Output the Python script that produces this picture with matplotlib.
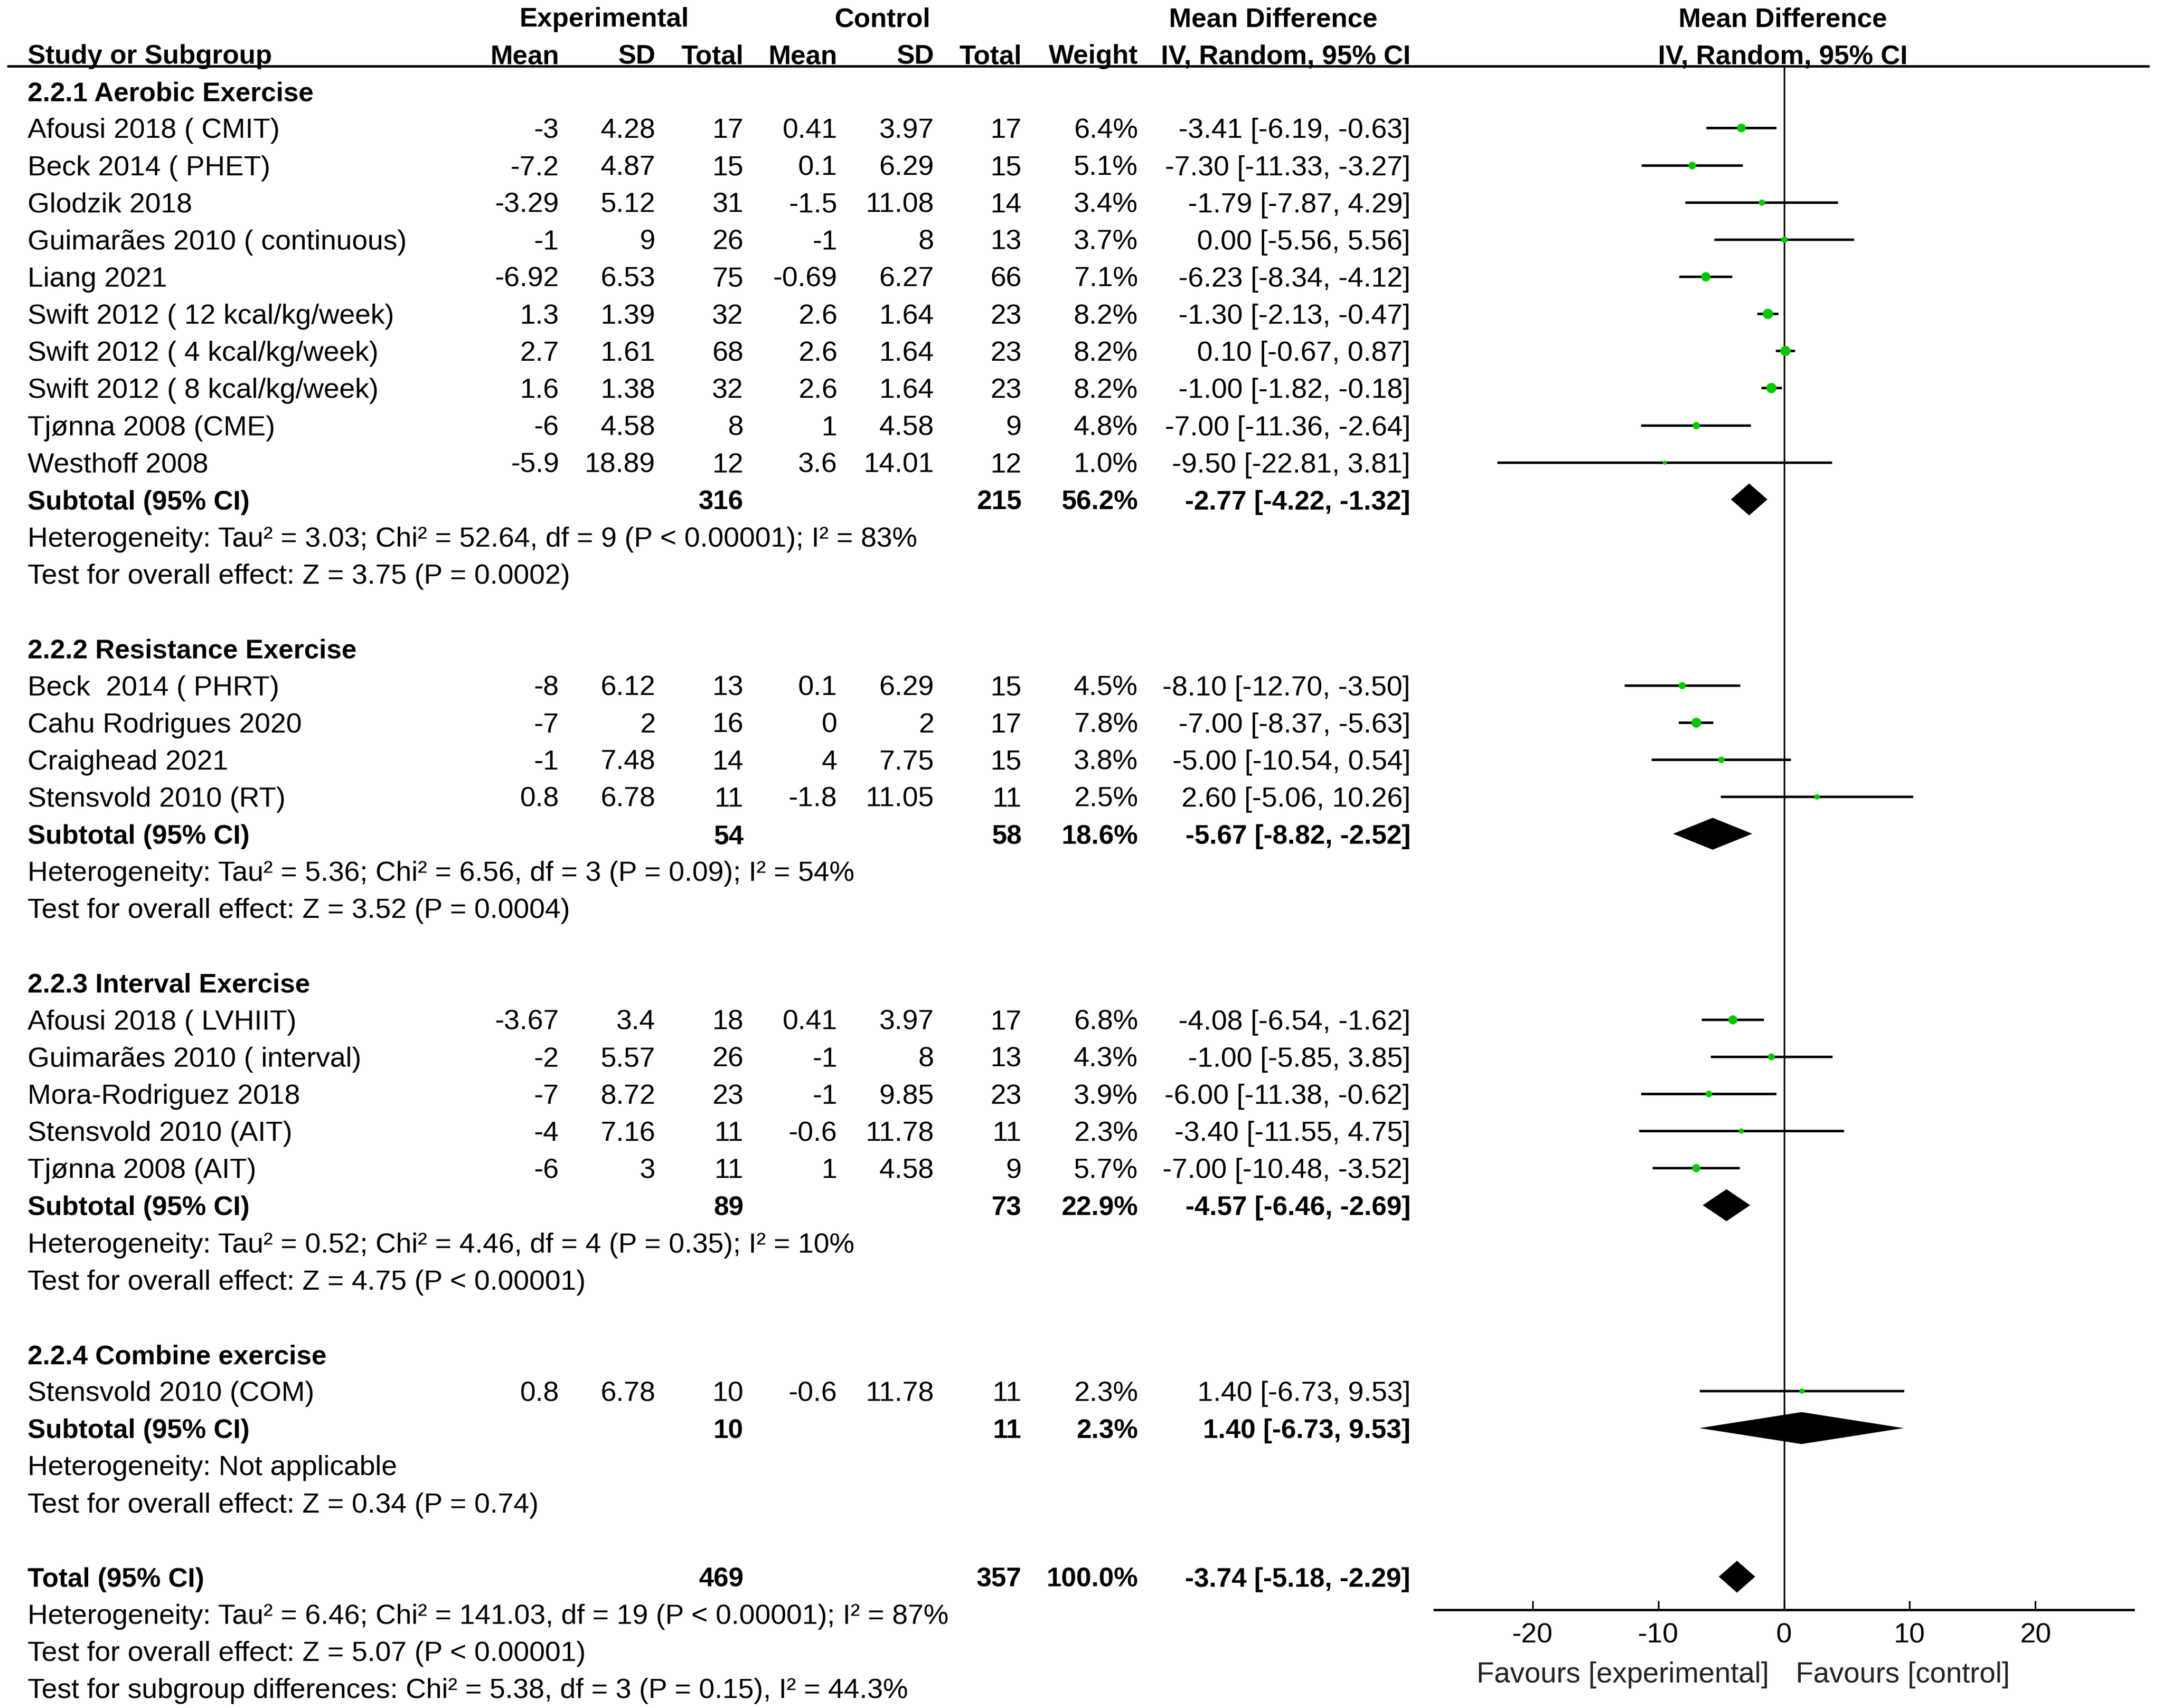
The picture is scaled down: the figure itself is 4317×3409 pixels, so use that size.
import matplotlib
matplotlib.use("Agg")
import matplotlib.pyplot as plt

plt.rcParams['font.family'] = ['Liberation Sans', 'DejaVu Sans']
plt.rcParams['axes.unicode_minus'] = False

# ---------------- data ----------------
group_titles = ["2.2.1 Aerobic Exercise", "2.2.2 Resistance Exercise",
                "2.2.3 Interval Exercise", "2.2.4 Combine exercise"]

study_names = [
    ["Afousi 2018 ( CMIT)", "Beck 2014 ( PHET)", "Glodzik 2018", "Guimarães 2010 ( continuous)",
     "Liang 2021", "Swift 2012 ( 12 kcal/kg/week)", "Swift 2012 ( 4 kcal/kg/week)",
     "Swift 2012 ( 8 kcal/kg/week)", "Tjønna 2008 (CME)", "Westhoff 2008"],
    ["Beck  2014 ( PHRT)", "Cahu Rodrigues 2020", "Craighead 2021", "Stensvold 2010 (RT)"],
    ["Afousi 2018 ( LVHIIT)", "Guimarães 2010 ( interval)", "Mora-Rodriguez 2018",
     "Stensvold 2010 (AIT)", "Tjønna 2008 (AIT)"],
    ["Stensvold 2010 (COM)"],
]
exp_mean = [[-3, -7.2, -3.29, -1, -6.92, 1.3, 2.7, 1.6, -6, -5.9],
            [-8, -7, -1, 0.8],
            [-3.67, -2, -7, -4, -6],
            [0.8]]
exp_sd = [[4.28, 4.87, 5.12, 9, 6.53, 1.39, 1.61, 1.38, 4.58, 18.89],
          [6.12, 2, 7.48, 6.78],
          [3.4, 5.57, 8.72, 7.16, 3],
          [6.78]]
exp_n = [[17, 15, 31, 26, 75, 32, 68, 32, 8, 12],
         [13, 16, 14, 11],
         [18, 26, 23, 11, 11],
         [10]]
ctl_mean = [[0.41, 0.1, -1.5, -1, -0.69, 2.6, 2.6, 2.6, 1, 3.6],
            [0.1, 0, 4, -1.8],
            [0.41, -1, -1, -0.6, 1],
            [-0.6]]
ctl_sd = [[3.97, 6.29, 11.08, 8, 6.27, 1.64, 1.64, 1.64, 4.58, 14.01],
          [6.29, 2, 7.75, 11.05],
          [3.97, 8, 9.85, 11.78, 4.58],
          [11.78]]
ctl_n = [[17, 15, 14, 13, 66, 23, 23, 23, 9, 12],
         [15, 17, 15, 11],
         [17, 13, 23, 11, 9],
         [11]]
weight = [[6.4, 5.1, 3.4, 3.7, 7.1, 8.2, 8.2, 8.2, 4.8, 1.0],
          [4.5, 7.8, 3.8, 2.5],
          [6.8, 4.3, 3.9, 2.3, 5.7],
          [2.3]]
md = [[-3.41, -7.30, -1.79, 0.00, -6.23, -1.30, 0.10, -1.00, -7.00, -9.50],
      [-8.10, -7.00, -5.00, 2.60],
      [-4.08, -1.00, -6.00, -3.40, -7.00],
      [1.40]]
ci_lo = [[-6.19, -11.33, -7.87, -5.56, -8.34, -2.13, -0.67, -1.82, -11.36, -22.81],
         [-12.70, -8.37, -10.54, -5.06],
         [-6.54, -5.85, -11.38, -11.55, -10.48],
         [-6.73]]
ci_hi = [[-0.63, -3.27, 4.29, 5.56, -4.12, -0.47, 0.87, -0.18, -2.64, 3.81],
         [-3.50, -5.63, 0.54, 10.26],
         [-1.62, 3.85, -0.62, 4.75, -3.52],
         [9.53]]

sub_exp_n = [316, 54, 89, 10]
sub_ctl_n = [215, 58, 73, 11]
sub_weight = [56.2, 18.6, 22.9, 2.3]
sub_md = [-2.77, -5.67, -4.57, 1.40]
sub_lo = [-4.22, -8.82, -6.46, -6.73]
sub_hi = [-1.32, -2.52, -2.69, 9.53]
sub_het = ["Heterogeneity: Tau² = 3.03; Chi² = 52.64, df = 9 (P < 0.00001); I² = 83%",
           "Heterogeneity: Tau² = 5.36; Chi² = 6.56, df = 3 (P = 0.09); I² = 54%",
           "Heterogeneity: Tau² = 0.52; Chi² = 4.46, df = 4 (P = 0.35); I² = 10%",
           "Heterogeneity: Not applicable"]
sub_test = ["Test for overall effect: Z = 3.75 (P = 0.0002)",
            "Test for overall effect: Z = 3.52 (P = 0.0004)",
            "Test for overall effect: Z = 4.75 (P < 0.00001)",
            "Test for overall effect: Z = 0.34 (P = 0.74)"]

total_exp_n = 469
total_ctl_n = 357
total_weight = 100.0
total_md, total_lo, total_hi = -3.74, -5.18, -2.29
total_lines = ["Heterogeneity: Tau² = 6.46; Chi² = 141.03, df = 19 (P < 0.00001); I² = 87%",
               "Test for overall effect: Z = 5.07 (P < 0.00001)",
               "Test for subgroup differences: Chi² = 5.38, df = 3 (P = 0.15), I² = 44.3%"]

x_ticks = [-20, -10, 0, 10, 20]
favours_left = "Favours [experimental]"
favours_right = "Favours [control]"

# ---------------- layout ----------------
W, H = 4317, 3409
FS = 40.5          # normal text
FSB = 38.8         # bold text
ROW0, ROWH = 33.0, 74.14          # pixel centre of row 0 and row pitch
BASE = 0.27                        # baseline offset (rows) from visual centre
GREEN = '#00C800'

fig = plt.figure(figsize=(W / 100, H / 100), dpi=100)
fig.patch.set_facecolor('white')

ax_t = fig.add_axes([0, 0, 1, 1])
ax_t.set_xlim(0, W)
ax_t.set_ylim((H - ROW0) / ROWH, -ROW0 / ROWH)
ax_t.axis('off')

# forest axes
fx0, fx1 = 2863, 4258
fy_top, fy_bot = 132, 3213
ax_f = fig.add_axes([fx0 / W, (H - fy_bot) / H, (fx1 - fx0) / W, (fy_bot - fy_top) / H])
ax_f.set_xlim(-27.8, 27.8)
ax_f.set_ylim((fy_bot - ROW0) / ROWH, (fy_top - ROW0) / ROWH)
ax_f.patch.set_alpha(0)
for s in ['left', 'right', 'top']:
    ax_f.spines[s].set_visible(False)
ax_f.spines['bottom'].set_linewidth(3.4)
ax_f.set_yticks([])
ax_f.set_xticks(x_ticks)
ax_f.set_xticklabels([str(t) for t in x_ticks])
ax_f.tick_params(axis='x', direction='in', length=13, width=2.4, pad=18,
                 labelsize=FS, colors='black')
ax_f.axvline(0, color='black', lw=2.4, zorder=1)

# column right edges (px)
C_MEAN_E, C_SD_E, C_N_E = 1116, 1308, 1484
C_MEAN_C, C_SD_C, C_N_C = 1671, 1864, 2039
C_W, C_CI = 2271, 2815
X_NAME = 55


def txt(x, row, s, ha='left', bold=False, color='black'):
    ax_t.text(x, row + BASE, s, ha=ha, va='baseline', fontsize=FSB if bold else FS,
              fontweight='bold' if bold else 'normal', color=color)


def g(v):
    return '{:g}'.format(v)


def ci_str(m, lo, hi):
    return '{:.2f} [{:.2f}, {:.2f}]'.format(m, lo, hi)


# headers
txt(1206, 0, "Experimental", ha='center', bold=True)
txt(1762, 0, "Control", ha='center', bold=True)
txt(2541, 0, "Mean Difference", ha='center', bold=True)
txt(3558, 0, "Mean Difference", ha='center', bold=True)
txt(X_NAME, 1, "Study or Subgroup", bold=True)
for x, s in [(C_MEAN_E, "Mean"), (C_SD_E, "SD"), (C_N_E, "Total"), (C_MEAN_C, "Mean"),
             (C_SD_C, "SD"), (C_N_C, "Total"), (C_W, "Weight"), (C_CI, "IV, Random, 95% CI")]:
    txt(x, 1, s, ha='right', bold=True)
txt(3558, 1, "IV, Random, 95% CI", ha='center', bold=True)
ax_t.plot([14, 4290], [(fy_top - ROW0) / ROWH] * 2, color='black', lw=3.4,
          solid_capstyle='butt')

DIAM_H = 0.86


def diamond(row, m, lo, hi):
    ax_f.fill([lo, m, hi, m], [row, row - DIAM_H / 2, row, row + DIAM_H / 2],
              color='black', lw=0, zorder=3)


row = 2
for gi, title in enumerate(group_titles):
    txt(X_NAME, row, title, bold=True)
    row += 1
    for k, name in enumerate(study_names[gi]):
        txt(X_NAME, row, name)
        txt(C_MEAN_E, row, g(exp_mean[gi][k]), ha='right')
        txt(C_SD_E, row, g(exp_sd[gi][k]), ha='right')
        txt(C_N_E, row, str(exp_n[gi][k]), ha='right')
        txt(C_MEAN_C, row, g(ctl_mean[gi][k]), ha='right')
        txt(C_SD_C, row, g(ctl_sd[gi][k]), ha='right')
        txt(C_N_C, row, str(ctl_n[gi][k]), ha='right')
        txt(C_W, row, '{:.1f}%'.format(weight[gi][k]), ha='right')
        txt(C_CI, row, ci_str(md[gi][k], ci_lo[gi][k], ci_hi[gi][k]), ha='right')
        ax_f.plot([ci_lo[gi][k], ci_hi[gi][k]], [row, row], color='black', lw=3.6,
                  solid_capstyle='butt', zorder=2)
        d_px = 1.7 * weight[gi][k] + 6.5
        ax_f.plot([md[gi][k]], [row], 'o', color=GREEN, ms=d_px * 0.72, mew=0, zorder=4)
        row += 1
    txt(X_NAME, row, "Subtotal (95% CI)", bold=True)
    txt(C_N_E, row, str(sub_exp_n[gi]), ha='right', bold=True)
    txt(C_N_C, row, str(sub_ctl_n[gi]), ha='right', bold=True)
    txt(C_W, row, '{:.1f}%'.format(sub_weight[gi]), ha='right', bold=True)
    txt(C_CI, row, ci_str(sub_md[gi], sub_lo[gi], sub_hi[gi]), ha='right', bold=True)
    diamond(row, sub_md[gi], sub_lo[gi], sub_hi[gi])
    row += 1
    txt(X_NAME, row, sub_het[gi])
    row += 1
    txt(X_NAME, row, sub_test[gi])
    row += 2

txt(X_NAME, row, "Total (95% CI)", bold=True)
txt(C_N_E, row, str(total_exp_n), ha='right', bold=True)
txt(C_N_C, row, str(total_ctl_n), ha='right', bold=True)
txt(C_W, row, '{:.1f}%'.format(total_weight), ha='right', bold=True)
txt(C_CI, row, ci_str(total_md, total_lo, total_hi), ha='right', bold=True)
diamond(row, total_md, total_lo, total_hi)
for line in total_lines:
    row += 1
    txt(X_NAME, row, line)

fav_row = (3338 - ROW0) / ROWH
ax_f.text(-1.2, fav_row + BASE, favours_left, ha='right', va='baseline', fontsize=FS + 0.8,
          color='#222222', clip_on=False)
ax_f.text(0.95, fav_row + BASE, favours_right, ha='left', va='baseline', fontsize=FS + 0.8,
          color='#222222', clip_on=False)

fig.savefig('out.png', dpi=100, facecolor='white')
